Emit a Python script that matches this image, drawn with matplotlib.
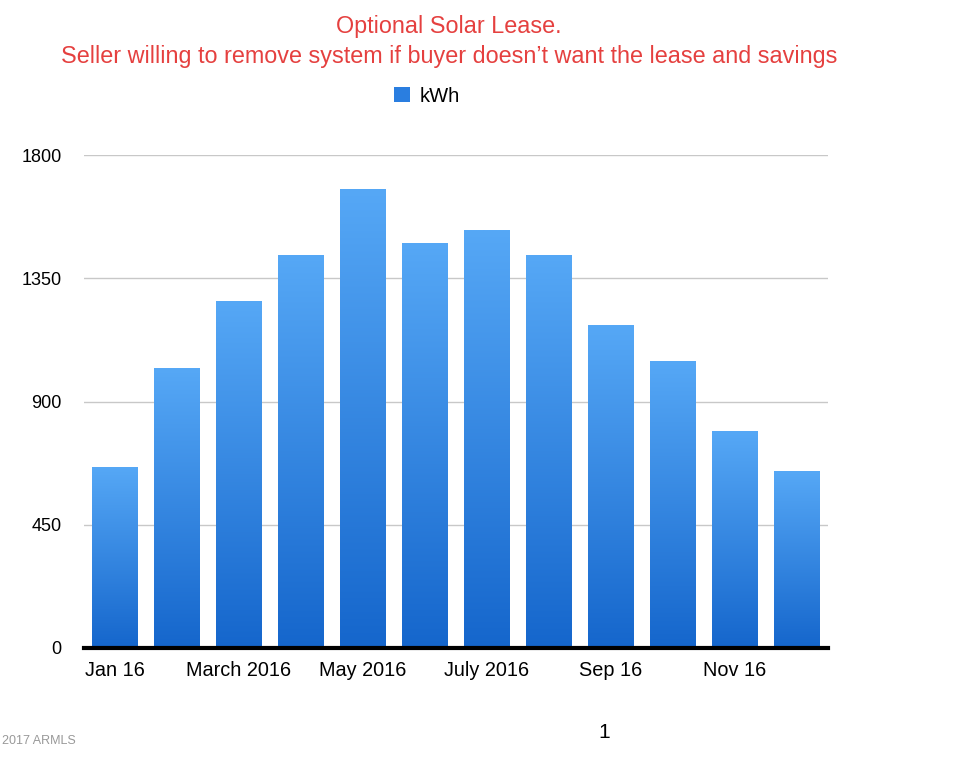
import numpy as np
import matplotlib.pyplot as plt
from matplotlib.colors import LinearSegmentedColormap
from matplotlib.patches import Patch

plt.rcParams['font.family'] = ['Liberation Sans', 'DejaVu Sans']

months = ['Jan 16', 'Feb 16', 'March 2016', 'Apr 16', 'May 2016', 'Jun 16',
          'July 2016', 'Aug 16', 'Sep 16', 'Oct 16', 'Nov 16', 'Dec 16']
kwh = [661, 1022, 1267, 1435, 1676, 1479, 1526, 1435, 1179, 1048, 792, 646]
yticks = [0, 450, 900, 1350, 1800]

title1 = 'Optional Solar Lease.'
title2 = 'Seller willing to remove system if buyer doesn\u2019t want the lease and savings'

fig = plt.figure(figsize=(9.67, 7.68), dpi=100)
ax = fig.add_axes([84/967, 1-648/768, (828-84)/967, (648-155)/768])

x = np.arange(len(kwh))
bars = ax.bar(x, kwh, width=0.73, color='none', edgecolor='none', zorder=2)

# each bar gets its own light-top / dark-bottom gradient
cmap = LinearSegmentedColormap.from_list('blu', ['#1566cc', '#56a8f6'])
grad = np.linspace(0, 1, 256).reshape(-1, 1)
for b in bars:
    x0 = b.get_x()
    w = b.get_width()
    h = b.get_height()
    im = ax.imshow(grad, cmap=cmap, origin='lower', aspect='auto',
                   extent=[x0, x0 + w, 0, h], zorder=2)
    im.set_clip_path(b)

ax.set_xlim(-0.5, len(kwh) - 0.5)
ax.set_ylim(0, 1800)
ax.set_yticks(yticks)
ax.set_yticklabels([str(v) for v in yticks])
ax.set_xticks(x[::2])
ax.set_xticklabels(months[::2])
ax.tick_params(axis='both', length=0)
ax.tick_params(axis='y', pad=16, labelsize=13)
ax.tick_params(axis='x', pad=9, labelsize=14.3)
ax.grid(axis='y', color='#c8c8c8', linewidth=1, zorder=0)
ax.set_axisbelow(True)
for s in ['top', 'right', 'left']:
    ax.spines[s].set_visible(False)
ax.spines['bottom'].set_linewidth(3)
ax.spines['bottom'].set_color('black')
ax.spines['bottom'].set_zorder(3)

fig.text(449/967, 1-27/768, title1, ha='center', va='center', color='#e5403f', fontsize=16.8)
fig.text(449/967, 1-57/768, title2, ha='center', va='center', color='#e5403f', fontsize=16.8)

fig.legend(handles=[Patch(facecolor='#2a7ee0', label='kWh')], loc='center',
           bbox_to_anchor=(427/967, 1-96/768), frameon=False, fontsize=14.5,
           handlelength=0.8, handleheight=0.8, handletextpad=0.5)

fig.text(2/967, 1-741/768, '2017 ARMLS', color='#999999', fontsize=9, va='center')
fig.text(604/967, 1-732/768, '1', color='black', fontsize=15, ha='center', va='center')

fig.savefig('out.png', dpi=100)
